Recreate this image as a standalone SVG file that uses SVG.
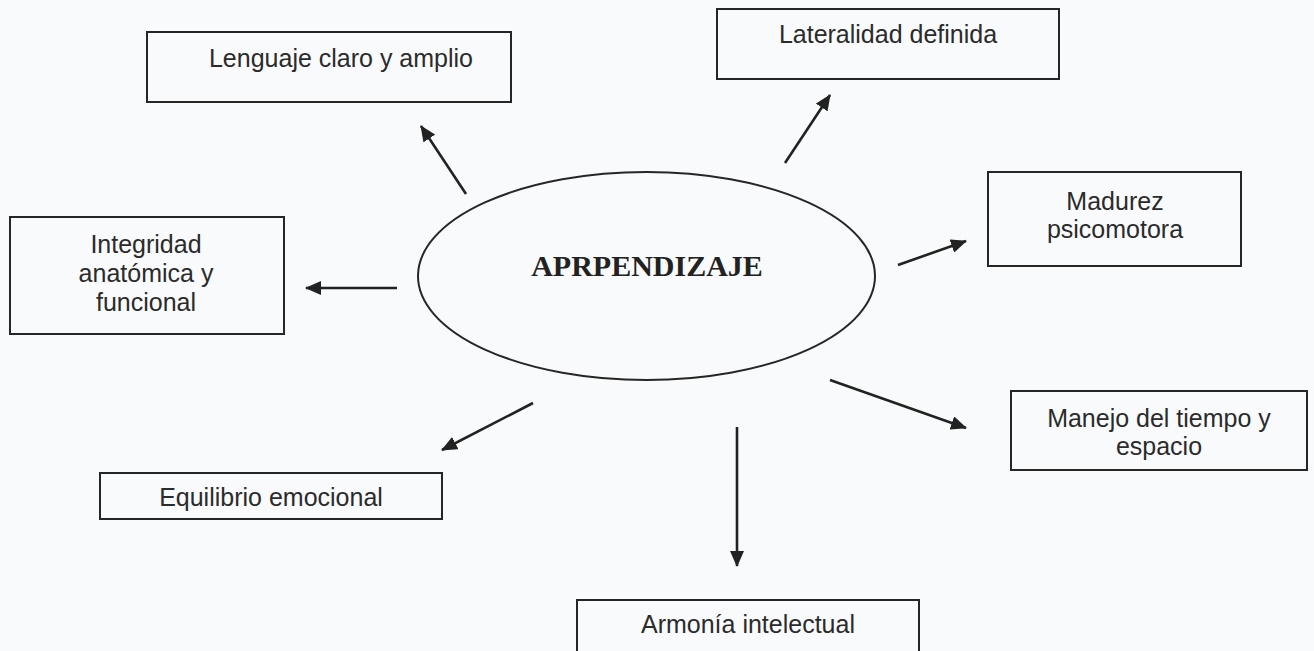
<svg xmlns="http://www.w3.org/2000/svg" width="1314" height="651" viewBox="0 0 1314 651">
<style>
.box{fill:none;stroke:#262626;stroke-width:2}
.lbl{font-family:"Liberation Sans",Arial,sans-serif;font-size:25px;fill:#2b2b2b;text-anchor:middle}
.title{font-family:"Liberation Serif","Times New Roman",serif;font-weight:bold;font-size:30px;fill:#222;text-anchor:middle}
.arr{stroke:#222;stroke-width:2.6;fill:none;marker-end:url(#ah)}
</style>
<defs>
<marker id="ah" markerUnits="userSpaceOnUse" markerWidth="18" markerHeight="14" refX="15" refY="7" orient="auto">
<path d="M0,0 L16,7 L0,14 Z" fill="#222"/>
</marker>
</defs>
<rect width="1314" height="651" fill="#f9fafb"/>
<g id="center">
<ellipse cx="646.5" cy="276" rx="228.5" ry="104" fill="none" stroke="#262626" stroke-width="2"/>
<text class="title" x="647" y="276">APRPENDIZAJE</text>
</g>
<g id="lenguaje">
<rect class="box" x="147" y="32" width="364" height="70"/>
<text class="lbl" x="341" y="67">Lenguaje claro y amplio</text>
</g>
<g id="lateralidad">
<rect class="box" x="717" y="9" width="342" height="70"/>
<text class="lbl" x="888" y="43">Lateralidad definida</text>
</g>
<g id="integridad">
<rect class="box" x="10" y="217" width="274" height="117"/>
<text class="lbl" x="146" y="253">Integridad</text>
<text class="lbl" x="146" y="282">anatómica y</text>
<text class="lbl" x="146" y="311">funcional</text>
</g>
<g id="madurez">
<rect class="box" x="988" y="172" width="253" height="94"/>
<text class="lbl" x="1115" y="210">Madurez</text>
<text class="lbl" x="1115" y="238">psicomotora</text>
</g>
<g id="equilibrio">
<rect class="box" x="100" y="473" width="342" height="46"/>
<text class="lbl" x="271" y="506">Equilibrio emocional</text>
</g>
<g id="manejo">
<rect class="box" x="1011" y="391" width="296" height="79"/>
<text class="lbl" x="1159" y="427">Manejo del tiempo y</text>
<text class="lbl" x="1159" y="455">espacio</text>
</g>
<g id="armonia">
<rect class="box" x="577" y="600" width="342" height="70"/>
<text class="lbl" x="748" y="633">Armonía intelectual</text>
</g>
<g id="connectors">
<line class="arr" x1="466" y1="194" x2="421" y2="126"/>
<line class="arr" x1="785" y1="163" x2="830" y2="95"/>
<line class="arr" x1="397" y1="288" x2="306" y2="288"/>
<line class="arr" x1="898" y1="265" x2="966" y2="241"/>
<line class="arr" x1="533" y1="403" x2="442" y2="450"/>
<line class="arr" x1="830" y1="380" x2="966" y2="428"/>
<line class="arr" x1="737" y1="427" x2="737" y2="566"/>
</g>
</svg>
